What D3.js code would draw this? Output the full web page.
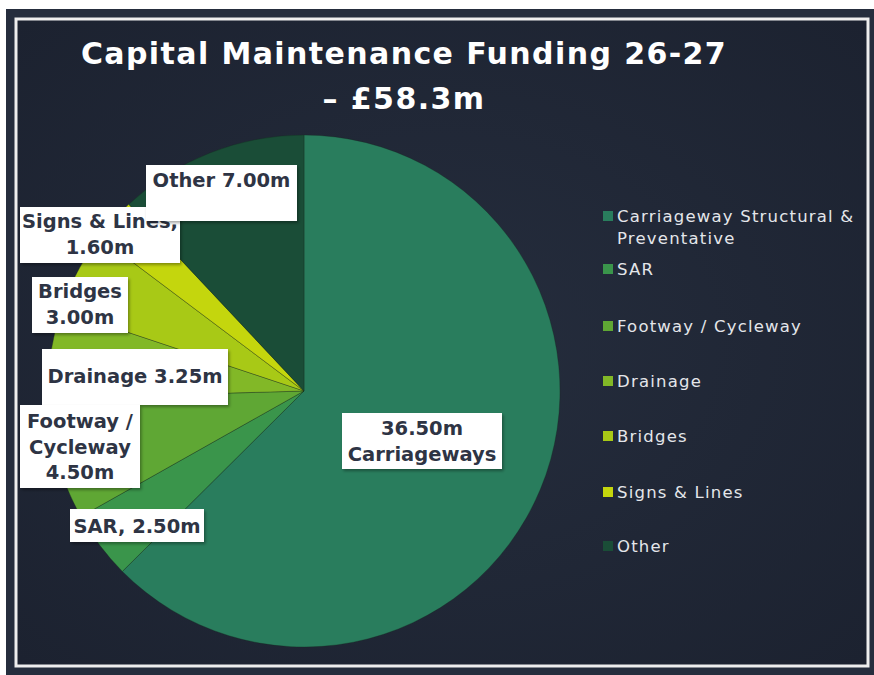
<!DOCTYPE html>
<html>
<head>
<meta charset="utf-8">
<script src="https://cdn.jsdelivr.net/npm/d3@7"></script>
<style>
  body { margin: 0; background: #fff; }
  svg { display: block; }
</style>
</head>
<body>
<svg id="chart"></svg>
<script>
// data
const categories = ['Carriageway Structural & Preventative', 'SAR', 'Footway / Cycleway', 'Drainage', 'Bridges', 'Signs & Lines', 'Other']
const values = [36.5, 2.5, 4.5, 3.25, 3.0, 1.6, 7.0]
const colors = ['#297d5d', '#3a954b', '#5fa734', '#82b827', '#a8c916', '#c4d60d', '#1a4d37']
const legendLines = [['Carriageway Structural &', 'Preventative'], ['SAR'], ['Footway / Cycleway'], ['Drainage'], ['Bridges'], ['Signs & Lines'], ['Other']]
const titleLines = ['Capital Maintenance Funding 26-27', '– £58.3m']

const fmt = d3.format('.2f')
// label text per slice, built from the values
const labelText = [
    v => [fmt(v) + 'm', 'Carriageways'],
    v => ['SAR, ' + fmt(v) + 'm'],
    v => ['Footway /', 'Cycleway', fmt(v) + 'm'],
    v => ['Drainage ' + fmt(v) + 'm'],
    v => ['Bridges', fmt(v) + 'm'],
    v => ['Signs & Lines,', fmt(v) + 'm'],
    v => ['Other ' + fmt(v) + 'm']
]

// label box layout (x, y, w, h, first baseline)
const labelBoxes = [
    {x: 342, y: 413, w: 160, h: 56, base: 435},
    {x: 70, y: 509, w: 134, h: 33, base: 533},
    {x: 20, y: 405, w: 120, h: 83, base: 428},
    {x: 42, y: 349, w: 186, h: 56, base: 383},
    {x: 32, y: 277, w: 96, h: 56, base: 298},
    {x: 20, y: 207, w: 160, h: 56, base: 228},
    {x: 146, y: 165, w: 151, h: 56, base: 187}
]
const labelOrder = [0, 1, 3, 2, 4, 5, 6]

let opts = {
    width: 874,
    height: 675,
    cx: 304,
    cy: 391,
    radius: 256,
    labelFont: "'DejaVu Sans', sans-serif",
    labelColor: '#2e3444',
    legendX: 603,
    legendBase: [222, 275, 332, 387, 442, 498, 552]
}

let svg = d3.select('#chart')
    .attr('width', opts.width)
    .attr('height', opts.height)

let defs = svg.append('defs')
let grad = defs.append('radialGradient').attr('id', 'bg')
    .attr('cx', '50%').attr('cy', '50%').attr('r', '70%')
grad.append('stop').attr('offset', '0%').attr('stop-color', '#252d3d')
grad.append('stop').attr('offset', '100%').attr('stop-color', '#1c2230')

let shadow = defs.append('filter').attr('id', 'shadow')
    .attr('x', '-10%').attr('y', '-10%').attr('width', '130%').attr('height', '140%')
shadow.append('feDropShadow')
    .attr('dx', 1.5).attr('dy', 2).attr('stdDeviation', 1.5)
    .attr('flood-color', '#000').attr('flood-opacity', 0.35)

// background and frame
svg.append('rect')
    .attr('x', 6).attr('y', 9)
    .attr('width', opts.width - 6).attr('height', opts.height - 9)
    .attr('fill', '#252d3d')
svg.append('rect')
    .attr('x', 16).attr('y', 19)
    .attr('width', 852).attr('height', 647)
    .attr('fill', 'url(#bg)')
    .attr('stroke', '#eeeeee')
    .attr('stroke-width', 3)

// title
svg.append('g').selectAll('text')
    .data(titleLines)
    .join('text')
    .attr('x', 404)
    .attr('y', (d, i) => 64 + i * 45)
    .attr('text-anchor', 'middle')
    .attr('fill', '#ffffff')
    .attr('font-family', "'DejaVu Sans', sans-serif")
    .attr('font-weight', 'bold')
    .attr('font-size', 30)
    .attr('letter-spacing', 1.4)
    .text(d => d)

// pie
let pie = d3.pie().sort(null).value(d => d)
let arc = d3.arc().innerRadius(0).outerRadius(opts.radius)
let arcs = pie(values)

svg.append('g')
    .attr('transform', `translate(${opts.cx},${opts.cy})`)
    .selectAll('path')
    .data(arcs)
    .join('path')
    .attr('d', arc)
    .attr('fill', (d, i) => colors[i])
    .attr('stroke', 'rgba(20,40,30,0.45)')
    .attr('stroke-width', 0.7)

// data labels
let labels = svg.append('g').selectAll('g')
    .data(labelOrder.map(i => ({i: i, box: labelBoxes[i], lines: labelText[i](values[i])})))
    .join('g')

labels.append('rect')
    .attr('x', d => d.box.x)
    .attr('y', d => d.box.y)
    .attr('width', d => d.box.w)
    .attr('height', d => d.box.h)
    .attr('fill', '#ffffff')
    .attr('filter', 'url(#shadow)')

labels.each(function(d) {
    d3.select(this).selectAll('text')
        .data(d.lines)
        .join('text')
        .attr('x', d.box.x + d.box.w / 2)
        .attr('y', (t, j) => d.box.base + j * 25.5)
        .attr('text-anchor', 'middle')
        .attr('fill', opts.labelColor)
        .attr('font-family', opts.labelFont)
        .attr('font-weight', 'bold')
        .attr('font-size', 19.5)
        .text(t => t)
})

// legend
let legend = svg.append('g').selectAll('g')
    .data(categories)
    .join('g')
    .attr('transform', (d, i) => `translate(${opts.legendX},${opts.legendBase[i]})`)

legend.append('rect')
    .attr('x', 0).attr('y', -11)
    .attr('width', 10).attr('height', 10)
    .attr('fill', (d, i) => colors[i])

legend.each(function(d, i) {
    d3.select(this).selectAll('text')
        .data(legendLines[i])
        .join('text')
        .attr('x', 14)
        .attr('y', (t, j) => j * 22)
        .attr('fill', '#e4e6ea')
        .attr('font-family', "'DejaVu Sans', sans-serif")
        .attr('font-size', 16.5)
        .attr('letter-spacing', 1.2)
        .text(t => t)
})
</script>
</body>
</html>
